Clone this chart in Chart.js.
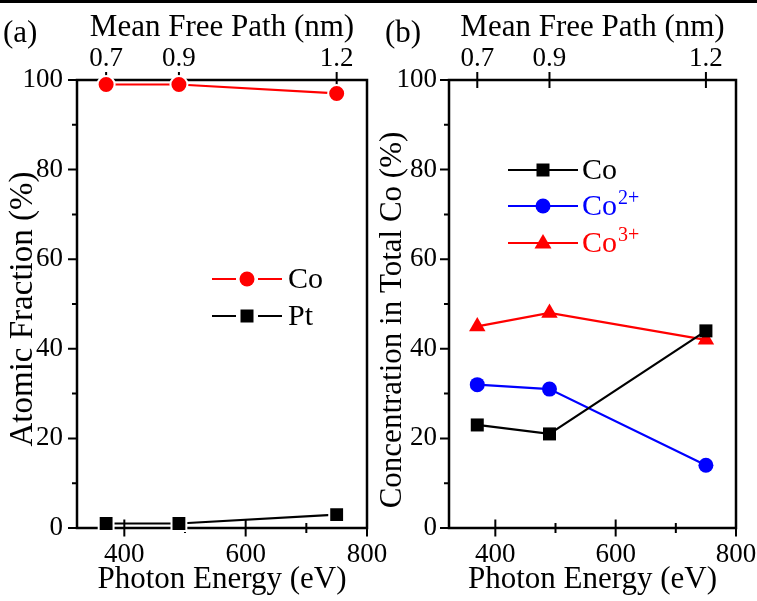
<!DOCTYPE html>
<html lang="en">
  <head>
    <meta charset="utf-8" />
    <title>XPS depth profile</title>
    <style>
      * {
        margin: 0;
        padding: 0;
      }
      body {
        width: 757px;
        height: 601px;
        background: white;
        position: relative;
        overflow: hidden;
      }
      .rule {
        position: absolute;
        left: 0;
        top: 0;
        width: 757px;
        height: 2.5px;
        background: black;
      }
      canvas {
        position: absolute;
        top: 0;
      }
      #panelA {
        left: 0;
      }
      #panelB {
        left: 370px;
      }
    </style>
  </head>
  <body>
    <canvas id="panelA" width="400" height="601"></canvas>
    <canvas id="panelB" width="387" height="601"></canvas>
    <div class="rule"></div>

    <script src="https://cdn.jsdelivr.net/npm/chart.js@4.4.0/dist/chart.umd.min.js"></script>

    <script>
      // data block
      const photonEnergy = [370, 490, 750];
      const meanFreePath = ["0.7", "0.9", "1.2"];
      const fracCo = [99, 99, 97];
      const fracPt = [1, 1, 3];
      const concCo = [23, 21, 44];
      const concCo2 = [32, 31, 14];
      const concCo3 = [45, 48, 42];
      const energyTicks = [400, 500, 600, 700, 800];
      const percentTicks = [0, 10, 20, 30, 40, 50, 60, 70, 80, 90, 100];

      const RED = "rgb(255, 0, 0)";
      const BLUE = "rgb(0, 0, 255)";
      const BLACK = "rgb(0, 0, 0)";
      const SERIF = "'Liberation Serif', 'Times New Roman', serif";

      Chart.defaults.font.family = SERIF;
      Chart.defaults.color = BLACK;

      const pts = (ys) => photonEnergy.map((x, i) => ({ x: x, y: ys[i] }));

      // marker shapes used by the legend
      function marker(ctx, style, x, y, color) {
        ctx.save();
        ctx.fillStyle = color;
        ctx.beginPath();
        if (style === "circle") {
          ctx.arc(x, y, 7.5, 0, Math.PI * 2);
        } else if (style === "rect") {
          ctx.rect(x - 6.5, y - 6.5, 13, 13);
        } else {
          ctx.moveTo(x, y - 9);
          ctx.lineTo(x + 8.5, y + 5.5);
          ctx.lineTo(x - 8.5, y + 5.5);
          ctx.closePath();
        }
        ctx.fill();
        ctx.restore();
      }

      // frame, crossing tick marks, y title, panel tag and legend
      const frame = {
        id: "frame",
        beforeDatasetsDraw(chart, args, opts) {
          const { ctx, chartArea: a, scales } = chart;
          ctx.save();
          ctx.strokeStyle = BLACK;
          ctx.lineWidth = 2.5;
          ctx.strokeRect(a.left, a.top, a.right - a.left, a.bottom - a.top);
          ctx.lineWidth = 2;
          ctx.beginPath();
          energyTicks.forEach((v) => {
            const px = scales.x.getPixelForValue(v);
            const len = v % 200 === 0 ? 8.5 : 5;
            ctx.moveTo(px, a.bottom - len);
            ctx.lineTo(px, a.bottom + len);
          });
          photonEnergy.forEach((v) => {
            const px = scales.x2.getPixelForValue(v);
            ctx.moveTo(px, a.top - 8);
            ctx.lineTo(px, a.top + 8);
          });
          percentTicks.forEach((v) => {
            const py = scales.y.getPixelForValue(v);
            const len = v % 20 === 0 ? 9 : 5;
            ctx.moveTo(a.left - len, py);
            ctx.lineTo(a.left, py);
          });
          ctx.stroke();

          // rotated y-axis title
          ctx.translate(opts.yTitle.x, opts.yTitle.y);
          ctx.rotate(-Math.PI / 2);
          ctx.fillStyle = BLACK;
          ctx.font = opts.yTitle.size + "px " + SERIF;
          ctx.textAlign = "center";
          ctx.textBaseline = "middle";
          ctx.fillText(opts.yTitle.text, 0, 0);
          ctx.restore();
        },
        afterDraw(chart, args, opts) {
          const { ctx } = chart;
          ctx.save();
          ctx.fillStyle = BLACK;
          ctx.font = "31px " + SERIF;
          ctx.textBaseline = "alphabetic";
          ctx.fillText(opts.tag, opts.tagX, 42);

          const lg = opts.legendBox;
          opts.legend.forEach((item) => {
            ctx.strokeStyle = item.color;
            ctx.lineWidth = 2;
            ctx.beginPath();
            if (item.gap) {
              ctx.moveTo(lg.x0, item.y);
              ctx.lineTo(lg.xm - item.gap, item.y);
              ctx.moveTo(lg.xm + item.gap, item.y);
              ctx.lineTo(lg.x1, item.y);
            } else {
              ctx.moveTo(lg.x0, item.y);
              ctx.lineTo(lg.x1, item.y);
            }
            ctx.stroke();
            marker(ctx, item.style, lg.xm, item.y, item.color);

            ctx.fillStyle = item.textColor;
            ctx.font = "30px " + SERIF;
            ctx.fillText(item.text, lg.tx, item.y + 9);
            if (item.sup) {
              const w = ctx.measureText(item.text).width;
              ctx.font = "20px " + SERIF;
              ctx.fillText(item.sup, lg.tx + w + 1, item.y - 2);
            }
          });
          ctx.restore();
        },
      };

      function buildPanel(canvasId, cfg) {
        return new Chart(document.getElementById(canvasId), {
          type: "line",
          data: { datasets: cfg.datasets },
          options: {
            responsive: false,
            animation: false,
            devicePixelRatio: 1,
            layout: { padding: { left: 0, top: 0, bottom: 0, right: cfg.padRight } },
            plugins: {
              legend: { display: false },
              tooltip: { enabled: false },
              frame: cfg.frame,
            },
            scales: {
              x: {
                type: "linear",
                position: "bottom",
                min: cfg.xMin,
                max: 800,
                grid: { display: false, drawTicks: false },
                border: { display: false },
                afterBuildTicks: (s) => {
                  s.ticks = energyTicks.map((v) => ({ value: v }));
                },
                afterFit: (s) => {
                  s.height = 73;
                  s.paddingLeft = 0;
                  s.paddingRight = 0;
                },
                ticks: {
                  autoSkip: false,
                  maxRotation: 0,
                  padding: 11,
                  font: { size: 27 },
                  callback: (v) => (v % 200 === 0 ? String(v) : ""),
                },
                title: {
                  display: true,
                  text: "Photon Energy (eV)",
                  font: { size: 31, lineHeight: 1 },
                  padding: { top: 0, bottom: 6 },
                },
              },
              x2: {
                type: "linear",
                position: "top",
                min: cfg.xMin,
                max: 800,
                grid: { display: false, drawTicks: false },
                border: { display: false },
                afterBuildTicks: (s) => {
                  s.ticks = photonEnergy.map((v) => ({ value: v }));
                },
                afterFit: (s) => {
                  s.height = 80;
                  s.paddingLeft = 0;
                  s.paddingRight = 0;
                },
                ticks: {
                  autoSkip: false,
                  maxRotation: 0,
                  padding: 5,
                  font: { size: 27 },
                  callback: (v) => meanFreePath[photonEnergy.indexOf(v)],
                },
                title: {
                  display: true,
                  text: "Mean Free Path (nm)",
                  font: { size: 31, lineHeight: 1 },
                  padding: { top: 12, bottom: 0 },
                },
              },
              y: {
                type: "linear",
                position: "left",
                min: 0,
                max: 100,
                grid: { display: false, drawTicks: false },
                border: { display: false },
                afterBuildTicks: (s) => {
                  s.ticks = percentTicks.map((v) => ({ value: v }));
                },
                afterFit: (s) => {
                  s.width = cfg.yWidth;
                  s.paddingTop = 0;
                  s.paddingBottom = 0;
                },
                ticks: {
                  autoSkip: false,
                  padding: cfg.yPad,
                  font: { size: 27 },
                  callback: (v) => (v % 20 === 0 ? String(v) : ""),
                },
              },
            },
          },
          plugins: [frame],
        });
      }

      function series(label, ys, color, style, radius, outline) {
        return {
          label: label,
          data: pts(ys),
          borderColor: color,
          backgroundColor: color,
          borderWidth: 2.2,
          pointStyle: style,
          pointRadius: radius,
          pointBackgroundColor: color,
          pointBorderColor: outline ? "white" : color,
          pointBorderWidth: outline ? 2 : 0,
          tension: 0,
          clip: false,
        };
      }

      // panel (a): atomic fraction
      buildPanel("panelA", {
        xMin: 322,
        padRight: 33,
        yWidth: 77,
        yPad: 14,
        datasets: [
          series("Co", fracCo, RED, "circle", 8.5, true),
          series("Pt", fracPt, BLACK, "rect", 10.5, true),
        ],
        frame: {
          tag: "(a)",
          tagX: 3,
          yTitle: { text: "Atomic Fraction (%)", x: 23, y: 309, size: 33 },
          legendBox: { x0: 212, xm: 247, x1: 282, tx: 288 },
          legend: [
            { text: "Co", color: RED, textColor: BLACK, style: "circle", y: 279, gap: 11 },
            { text: "Pt", color: BLACK, textColor: BLACK, style: "rect", y: 316, gap: 11 },
          ],
        },
      });

      // panel (b): cobalt oxidation states
      buildPanel("panelB", {
        xMin: 323,
        padRight: 21,
        yWidth: 79,
        yPad: 12,
        datasets: [
          series("Co", concCo, BLACK, "rect", 9.2, false),
          series("Co2+", concCo2, BLUE, "circle", 7.5, false),
          series("Co3+", concCo3, RED, "triangle", 9.5, false),
        ],
        frame: {
          tag: "(b)",
          tagX: 15,
          yTitle: { text: "Concentration in Total Co (%)", x: 23, y: 320, size: 31 },
          legendBox: { x0: 138, xm: 173, x1: 208, tx: 212 },
          legend: [
            { text: "Co", color: BLACK, textColor: BLACK, style: "rect", y: 170 },
            { text: "Co", sup: "2+", color: BLUE, textColor: BLUE, style: "circle", y: 206 },
            { text: "Co", sup: "3+", color: RED, textColor: RED, style: "triangle", y: 243 },
          ],
        },
      });
    </script>
  </body>
</html>
